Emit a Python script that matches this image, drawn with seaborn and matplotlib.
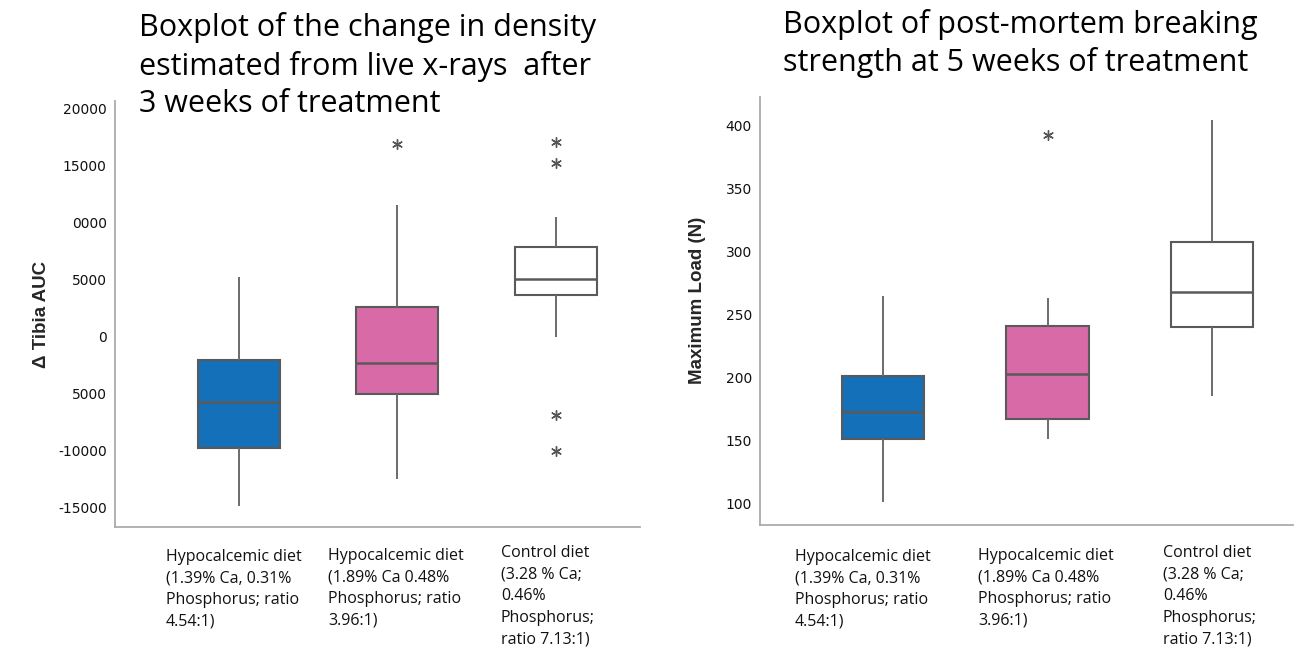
import numpy as np
import pandas as pd
import matplotlib
matplotlib.use("Agg")
import matplotlib.pyplot as plt
import seaborn as sns

# ---------------- data ----------------
categories = ["Hypo 1.39% Ca", "Hypo 1.89% Ca", "Control"]
category_labels = [
    "Hypocalcemic diet\n(1.39% Ca, 0.31%\nPhosphorus; ratio\n4.54:1)",
    "Hypocalcemic diet\n(1.89% Ca 0.48%\nPhosphorus; ratio\n3.96:1)",
    "Control diet\n(3.28 % Ca;\n0.46%\nPhosphorus;\nratio 7.13:1)",
]
box_colors = ["#1370b9", "#d96aa8", "#ffffff"]

density_low = [-14850, -12500, 0]
density_q1 = [-9800, -5000, 3650]
density_median = [-5700, -2300, 5100]
density_q3 = [-2000, 2600, 7900]
density_high = [5200, 11600, 10500]
density_outlier_group = ["Hypo 1.89% Ca", "Control", "Control", "Control", "Control"]
density_outlier_value = [16950, 17100, 15250, -6900, -10000]
density_ticks = [20000, 15000, 10000, 5000, 0, -5000, -10000, -15000]
density_ticklabels = ["20000", "15000", "0000", "5000", "0", "5000", "-10000", "-15000"]

# Right: maximum load (N)
load_low = [101, 151, 185]
load_q1 = [151, 166.7, 240]
load_median = [172.5, 202.6, 268]
load_q3 = [201, 241.3, 307.5]
load_high = [265, 263.5, 404.5]
load_outlier_group = ["Hypo 1.89% Ca"]
load_outlier_value = [393]
load_ticks = [100, 150, 200, 250, 300, 350, 400]

title_left = "Boxplot of the change in density\nestimated from live x-rays  after\n3 weeks of treatment"
title_right = "Boxplot of post-mortem breaking\nstrength at 5 weeks of treatment"


def summary_frame(low, q1, med, q3, high):
    rows = []
    for g, a, b, c, d, e in zip(categories, low, q1, med, q3, high):
        for v in (a, b, c, d, e):
            rows.append({"group": g, "value": v})
    return pd.DataFrame(rows)


density_df = summary_frame(density_low, density_q1, density_median, density_q3, density_high)
load_df = summary_frame(load_low, load_q1, load_median, load_q3, load_high)
density_out = pd.DataFrame({"group": density_outlier_group, "value": density_outlier_value})
load_out = pd.DataFrame({"group": load_outlier_group, "value": load_outlier_value})

# ---------------- style ----------------
sns.set_style("white")
plt.rcParams["font.family"] = ["DejaVu Sans"]

W, H = 1295, 648
fig = plt.figure(figsize=(W / 100, H / 100), dpi=100)

ax1 = fig.add_axes([115 / W, 1 - 527 / H, (640 - 115) / W, (527 - 101) / H])
ax2 = fig.add_axes([760.3 / W, 1 - 525 / H, (1293 - 760.3) / W, (525 - 96.7) / H])

edge = "#5a5a5a"
spine_col = "#ababab"


def draw(ax, df, out, width):
    sns.boxplot(
        data=df, x="group", y="value", hue="group", order=categories,
        hue_order=categories, palette=dict(zip(categories, box_colors)),
        whis=(0, 100), width=width, showcaps=False, saturation=1,
        linewidth=1.5, linecolor=edge, fliersize=0, legend=False, ax=ax,
        medianprops=dict(color=edge, linewidth=1.8),
        whiskerprops=dict(color="#6b6b6b", linewidth=1.4),
    )
    sns.stripplot(
        data=out, x="group", y="value", order=categories, jitter=False,
        marker=(6, 2, 0), s=7, color="#555555", linewidth=1.0, ax=ax,
    )
    sns.despine(ax=ax)
    for s in ("left", "bottom"):
        ax.spines[s].set_color(spine_col)
        ax.spines[s].set_linewidth(1.3)
    ax.set_xlabel("")
    ax.set_ylabel("")
    ax.tick_params(axis="y", length=3, width=1, color=spine_col, pad=3,
                   labelsize=10, labelcolor="#111111")


draw(ax1, density_df, density_out, 0.518)
ax1.set_ylim(-16690, 20680)
ax1.set_yticks(density_ticks)
ax1.set_yticklabels(density_ticklabels)
ax1.set_xlim(-0.783, 2.533)
ax1.set_xticks([0])
ax1.set_xticklabels([""])
ax1.tick_params(axis="x", length=12, width=1, color=spine_col)

draw(ax2, load_df, load_out, 0.5)
ax2.set_ylim(82.7, 423.3)
ax2.set_yticks(load_ticks)
ax2.set_xlim(-0.745, 2.49)
ax2.set_xticks([])

# axis titles
fig.text(42 / W, 1 - 314 / H, "Δ Tibia AUC", rotation=90, ha="center", va="center",
         fontsize=13.5, fontweight="bold", family=["Liberation Sans", "DejaVu Sans"])
fig.text(697 / W, 1 - 300 / H, "Maximum Load (N)", rotation=90, ha="center", va="center",
         fontsize=13.5, fontweight="bold", family=["Liberation Sans", "DejaVu Sans"])

# chart titles
fig.text(139 / W, 1 - 112 / H, title_left, ha="left", va="baseline", fontsize=22,
         family=["Open Sans", "DejaVu Sans"], linespacing=1.31, color="#000000")
fig.text(783 / W, 1 - 71 / H, title_right, ha="left", va="baseline", fontsize=22,
         family=["Open Sans", "DejaVu Sans"], linespacing=1.28, color="#000000")

# category labels
left_label_x = [166, 328, 501]
right_label_x = [795, 978, 1163]
label_top = [549, 548, 545]
for lab, xl, xr, yt in zip(category_labels, left_label_x, right_label_x, label_top):
    for x in (xl, xr):
        fig.text(x / W, 1 - yt / H, lab, ha="left", va="top", fontsize=11.5,
                 family=["Open Sans", "DejaVu Sans"], linespacing=1.47, color="#111111")

fig.savefig("out.png", dpi=100)
